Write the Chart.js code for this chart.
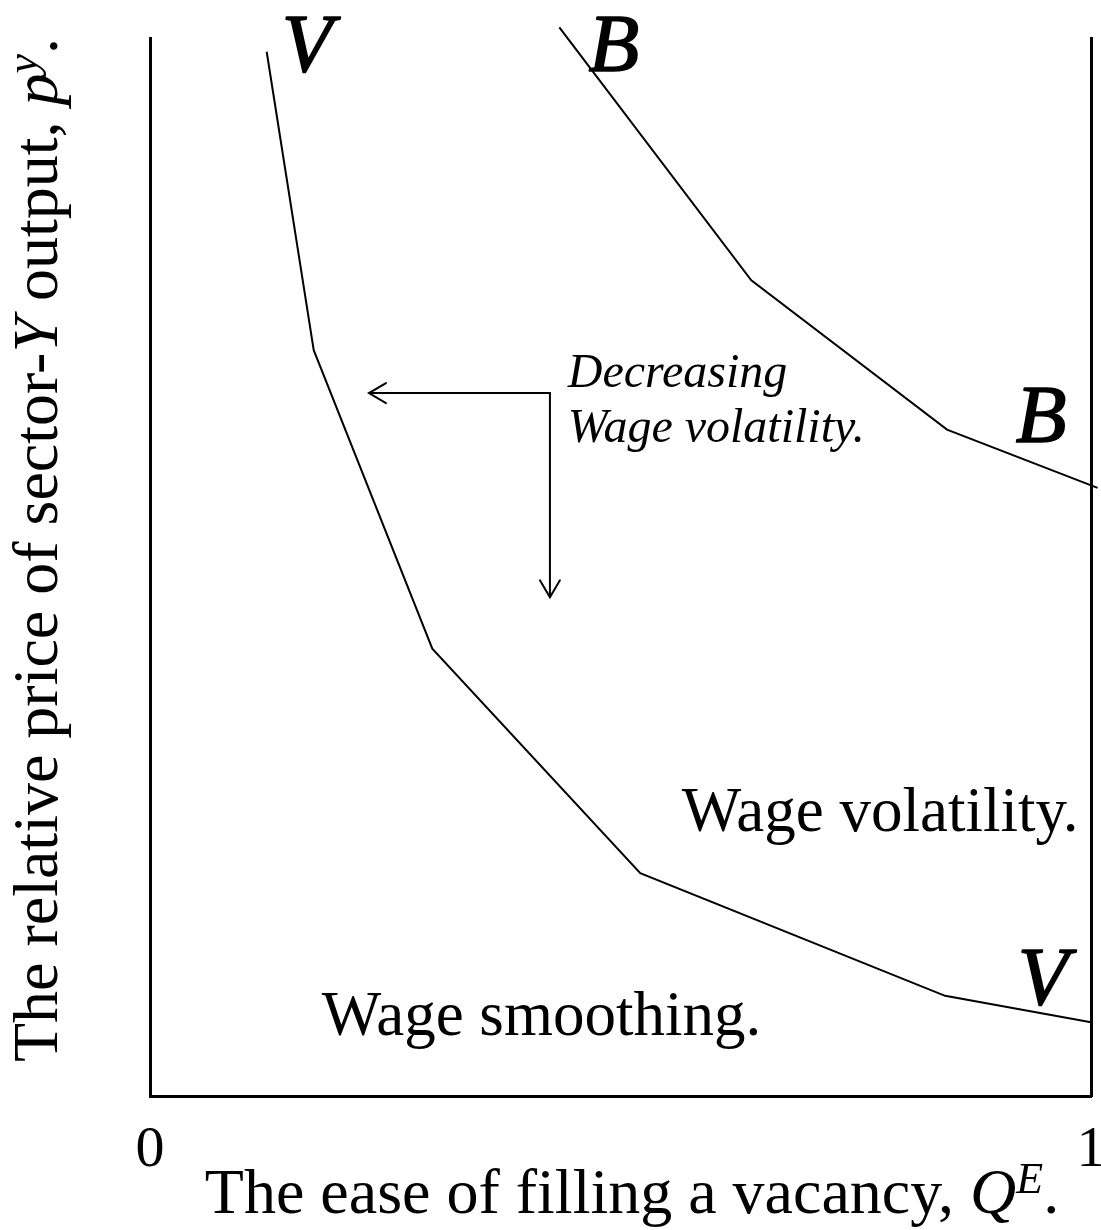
<!DOCTYPE html>
<html><head><meta charset="utf-8">
<script src="https://cdn.jsdelivr.net/npm/chart.js@4/dist/chart.umd.min.js"></script>
<style>html,body{margin:0;padding:0;background:#fff;overflow:hidden}</style>
</head><body>
<canvas id="c" width="1101" height="1230"></canvas>
<script>
// ---- data (in axis units: x = ease of filling a vacancy 0..1, y = relative price 0..1) ----
const vCurveX = [0.124, 0.174, 0.300, 0.521, 0.845, 1.000];
const vCurveY = [0.987, 0.705, 0.423, 0.211, 0.095, 0.070];
const bCurveX = [0.435, 0.639, 0.847, 1.007];
const bCurveY = [1.010, 0.771, 0.630, 0.575];
const xTickValues = [0, 1];
const xTickLabels = ['0', '1'];
// arrow "decreasing wage volatility": left end, corner, bottom end
const arrowX = [0.2327, 0.425, 0.425];
const arrowY = [0.6645, 0.6645, 0.4716];
// curve name labels
const curveLabelText = ['V', 'B', 'B', 'V'];
const curveLabelX = [0.167, 0.493, 0.947, 0.949];
const curveLabelY = [0.969, 0.969, 0.618, 0.087];
// region labels
const regionText = ['Wage volatility.', 'Wage smoothing.'];
const regionX = [0.776, 0.416];
const regionY = [0.251, 0.058];
// arrow note
const noteText = ['Decreasing', 'Wage volatility.'];
const noteX = [0.444, 0.444];
const noteY = [0.670, 0.618];
// axis titles (rich segments: n = normal, i = italic, s = italic superscript)
const yTitleParts = [['The relative price of sector-', 'n'], ['Y', 'i'], [' output, ', 'n'], ['p', 'i'], ['y', 's'], ['.', 'n']];
const xTitleParts = [['The ease of filling a vacancy, ', 'n'], ['Q', 'i'], ['E', 's'], ['.', 'n']];

const FAM = '"Liberation Serif", "Times New Roman", serif';
const pts = (xs, ys) => xs.map((x, i) => ({x: x, y: ys[i]}));

function drawRich(ctx, parts, size) {
  const fontOf = (k) => k === 'i' ? `italic ${size}px ${FAM}` : (k === 's' ? `italic ${Math.round(size*0.68)}px ${FAM}` : `${size}px ${FAM}`);
  let w = 0;
  parts.forEach(p => { ctx.font = fontOf(p[1]); w += ctx.measureText(p[0]).width; });
  let x = -w / 2;
  parts.forEach(p => {
    ctx.font = fontOf(p[1]);
    const dy = p[1] === 's' ? -size * 0.32 : 0;
    ctx.fillText(p[0], x, dy);
    x += ctx.measureText(p[0]).width;
  });
}

const annot = {
  id: 'annot',
  afterDatasetsDraw(chart) {
    const ctx = chart.ctx, xs = chart.scales.x, ys = chart.scales.y;
    ctx.save();
    ctx.fillStyle = '#000';
    ctx.textBaseline = 'alphabetic';
    // arrowheads
    ctx.strokeStyle = '#000'; ctx.lineWidth = 2; ctx.lineCap = 'round';
    const lx = xs.getPixelForValue(arrowX[0]), ly = ys.getPixelForValue(arrowY[0]);
    ctx.beginPath(); ctx.moveTo(lx + 17, ly - 10); ctx.lineTo(lx, ly); ctx.lineTo(lx + 17, ly + 10); ctx.stroke();
    const bx = xs.getPixelForValue(arrowX[2]), by = ys.getPixelForValue(arrowY[2]);
    ctx.beginPath(); ctx.moveTo(bx - 10, by - 17); ctx.lineTo(bx, by); ctx.lineTo(bx + 10, by - 17); ctx.stroke();
    // curve labels (slightly heavier italic)
    ctx.textAlign = 'center';
    ctx.font = `italic 83px ${FAM}`;
    ctx.lineWidth = 1.6; ctx.lineJoin = 'round';
    curveLabelText.forEach((t, i) => {
      const px = xs.getPixelForValue(curveLabelX[i]), py = ys.getPixelForValue(curveLabelY[i]);
      ctx.fillText(t, px, py);
      ctx.strokeText(t, px, py);
    });
    // region labels
    ctx.font = `63px ${FAM}`;
    regionText.forEach((t, i) => ctx.fillText(t, xs.getPixelForValue(regionX[i]), ys.getPixelForValue(regionY[i])));
    // note
    ctx.textAlign = 'left';
    ctx.font = `italic 48px ${FAM}`;
    noteText.forEach((t, i) => ctx.fillText(t, xs.getPixelForValue(noteX[i]), ys.getPixelForValue(noteY[i])));
    ctx.restore();
  },
  afterDraw(chart) {
    const ctx = chart.ctx;
    ctx.save();
    ctx.fillStyle = '#000';
    ctx.textAlign = 'left';
    ctx.textBaseline = 'alphabetic';
    ctx.save(); ctx.translate(632, 1213); drawRich(ctx, xTitleParts, 64); ctx.restore();
    ctx.save(); ctx.translate(57, 550); ctx.rotate(-Math.PI / 2); drawRich(ctx, yTitleParts, 64); ctx.restore();
    ctx.restore();
  }
};

const lineDs = (data) => ({data: data, borderColor: '#000', borderWidth: 2, pointRadius: 0, fill: false, tension: 0, clip: false, showLine: true});

new Chart(document.getElementById('c'), {
  type: 'line',
  data: {
    datasets: [
      lineDs(pts(vCurveX, vCurveY)),
      lineDs(pts(bCurveX, bCurveY)),
      lineDs(pts(arrowX, arrowY))
    ]
  },
  options: {
    responsive: false,
    animation: false,
    events: [],
    layout: {padding: {left: 150, right: 10, top: 38, bottom: 24}},
    plugins: {legend: {display: false}, tooltip: {enabled: false}, title: {display: false}},
    scales: {
      x: {
        type: 'linear', position: 'bottom', min: 0, max: 1,
        grid: {display: false, drawTicks: false},
        border: {display: true, color: '#000', width: 3},
        afterBuildTicks: s => { s.ticks = xTickValues.map(v => ({value: v})); },
        afterFit: s => { s.paddingLeft = 0; s.paddingRight = 0; },
        ticks: {
          padding: 20, maxRotation: 0, autoSkip: false, color: '#000',
          font: {family: FAM, size: 58},
          callback: (v, i) => xTickLabels[i]
        }
      },
      y: {
        type: 'linear', position: 'left', min: 0, max: 1,
        grid: {display: false, drawTicks: false},
        border: {display: true, color: '#000', width: 3},
        ticks: {display: false}
      },
      y2: {
        type: 'linear', position: 'right', min: 0, max: 1,
        grid: {display: false, drawTicks: false},
        border: {display: true, color: '#000', width: 3},
        ticks: {display: false}
      }
    }
  },
  plugins: [annot]
});
</script>
</body></html>
